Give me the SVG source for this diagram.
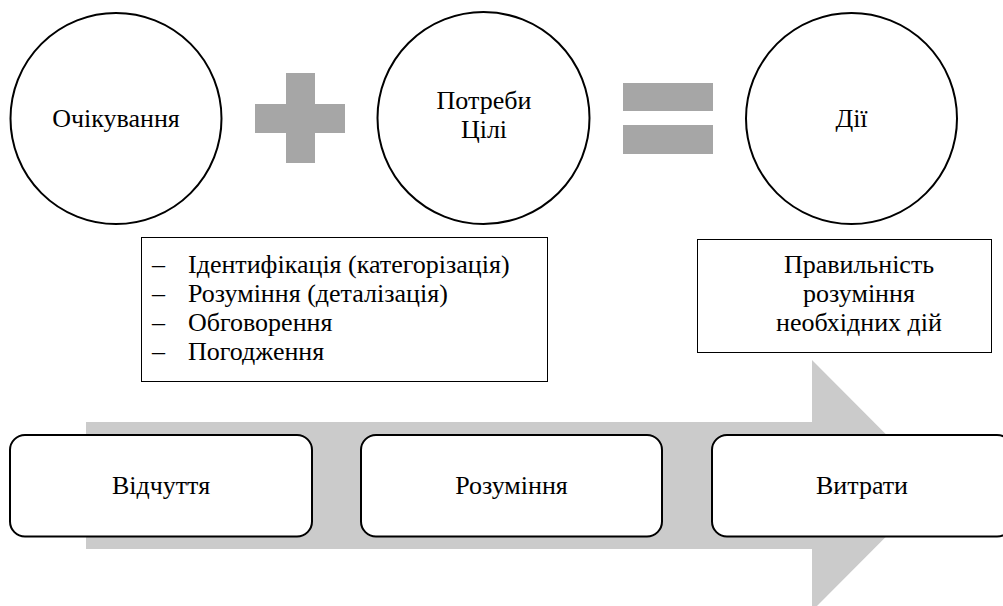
<svg xmlns="http://www.w3.org/2000/svg" width="1003" height="606" viewBox="0 0 1003 606">
<style>
  text { font-family: "Liberation Serif", "Times New Roman", serif; font-size: 26px; fill: #000; }
  .c { text-anchor: middle; }
  .circle { fill: #fff; stroke: #000; stroke-width: 2; }
  .sym { fill: #a6a6a6; }
  .box { fill: #fff; stroke: #000; stroke-width: 1; }
  .rbox { fill: #fff; stroke: #000; stroke-width: 2; }
</style>
<rect x="0" y="0" width="1003" height="606" fill="#fff"/>

<g id="big-arrow">
  <polygon points="86,422 812,422 812,360 937,485.5 812,611 812,549 86,549" fill="#cbcbcb"/>
</g>

<g id="node-expectations">
  <circle class="circle" cx="116" cy="118.5" r="105.5"/>
  <text class="c" x="116" y="127">Очікування</text>
</g>

<g id="plus">
  <rect class="sym" x="286" y="73" width="29" height="90"/>
  <rect class="sym" x="255" y="104" width="90" height="29"/>
</g>

<g id="node-needs">
  <circle class="circle" cx="483.5" cy="118" r="106"/>
  <text class="c" x="484" y="109">Потреби</text>
  <text class="c" x="484" y="138">Цілі</text>
</g>

<g id="equals">
  <rect class="sym" x="623" y="83" width="90" height="28"/>
  <rect class="sym" x="623" y="125" width="90" height="29"/>
</g>

<g id="node-actions">
  <circle class="circle" cx="851.5" cy="118.5" r="105.5"/>
  <text class="c" x="851.5" y="127">Дії</text>
</g>

<g id="node-list">
  <rect class="box" x="141.5" y="237.5" width="406" height="144"/>
  <text x="152" y="273">–</text><text x="188" y="273">Ідентифікація (категорізація)</text>
  <text x="152" y="302">–</text><text x="188" y="302">Розуміння (деталізація)</text>
  <text x="152" y="331">–</text><text x="188" y="331">Обговорення</text>
  <text x="152" y="360">–</text><text x="188" y="360">Погодження</text>
</g>

<g id="node-correctness">
  <rect class="box" x="697.5" y="239.5" width="294" height="113"/>
  <text class="c" x="859" y="273">Правильність</text>
  <text class="c" x="859" y="302">розуміння</text>
  <text class="c" x="859" y="331">необхідних дій</text>
</g>

<g id="node-feeling">
  <rect class="rbox" x="10" y="435" width="302" height="101.5" rx="15" ry="15"/>
  <text class="c" x="161" y="494">Відчуття</text>
</g>

<g id="node-understanding">
  <rect class="rbox" x="361" y="435" width="301" height="101.5" rx="15" ry="15"/>
  <text class="c" x="511.5" y="494">Розуміння</text>
</g>

<g id="node-costs">
  <rect class="rbox" x="712" y="435" width="300" height="101.5" rx="15" ry="15"/>
  <text class="c" x="862" y="494">Витрати</text>
</g>

<g id="connectors"></g>
</svg>
